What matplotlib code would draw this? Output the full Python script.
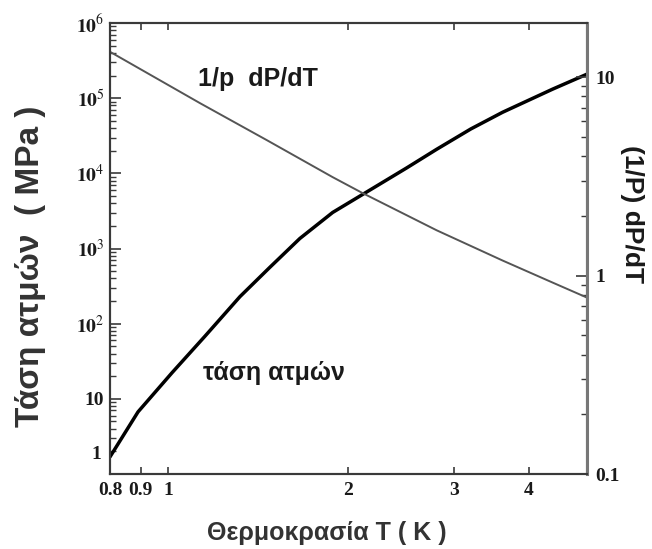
import matplotlib
matplotlib.use("Agg")
import matplotlib.pyplot as plt
from matplotlib.ticker import FixedLocator, FixedFormatter, NullLocator, LogLocator, NullFormatter

plt.rcParams["mathtext.fontset"] = "stix"

# Vapour pressure of helium vs temperature (left axis)
T_vp = [0.800, 0.891, 1.015, 1.152, 1.318, 1.477, 1.659, 1.882, 2.112, 2.500,
        2.806, 3.200, 3.615, 4.379, 5.0]
P_vp = [1.69, 6.71, 22.2, 68, 229, 558, 1360, 3020, 5250, 11800,
        20900, 39000, 65000, 131800, 209000]

# Relative slope (1/P) dP/dT (right axis)
T_rate = [0.800, 1.130, 1.461, 1.882, 2.112, 2.806, 3.615, 4.379, 5.0]
R_rate = [13.4, 7.39, 4.81, 3.13, 2.60, 1.69, 1.19, 0.922, 0.774]

x_ticks = [0.8, 0.9, 1, 2, 3, 4]
x_labels = ["0.8", "0.9", "1", "2", "3", "4"]
yl_ticks = [1, 10, 1e2, 1e3, 1e4, 1e5, 1e6]
yl_labels = ["", "10", r"$\mathbf{10}^{2}$", r"$\mathbf{10}^{3}$", r"$\mathbf{10}^{4}$",
             r"$\mathbf{10}^{5}$", r"$\mathbf{10}^{6}$"]
yr_ticks = [0.1, 1, 10]
yr_labels = ["0.1", "1", "10"]

ink = "#1a1a1a"
spine_c = "#3a3a3a"
tick_font = dict(family="Liberation Serif", weight="bold", size=14)

fig = plt.figure(figsize=(6.52, 5.49), dpi=100)
ax = fig.add_axes([0.1687, 0.1366, 0.7316, 0.8214])
ax.set_xscale("log")
ax.set_yscale("log")
ax.set_xlim(0.8, 5.0)
ax.set_ylim(1, 1e6)

ax2 = ax.twinx()
ax2.set_yscale("log")
ax2.set_ylim(0.1, 18.7)

ax.plot(T_vp, P_vp, color="black", lw=2.5, solid_capstyle="round",
        solid_joinstyle="round", zorder=3)
ax2.plot(T_rate, R_rate, color="#555555", lw=1.4, solid_joinstyle="round", zorder=2)

# x axis
ax.xaxis.set_major_locator(FixedLocator(x_ticks))
ax.xaxis.set_major_formatter(FixedFormatter(x_labels))
ax.xaxis.set_minor_locator(NullLocator())
ax.xaxis.set_minor_formatter(NullFormatter())

# left axis
ax.yaxis.set_major_locator(FixedLocator(yl_ticks))
ax.yaxis.set_major_formatter(FixedFormatter(yl_labels))
ax.yaxis.set_minor_locator(LogLocator(base=10, subs=range(2, 10), numticks=20))
ax.yaxis.set_minor_formatter(NullFormatter())

# right axis
ax2.yaxis.set_major_locator(FixedLocator(yr_ticks))
ax2.yaxis.set_major_formatter(FixedFormatter(yr_labels))
ax2.yaxis.set_minor_locator(LogLocator(base=10, subs=range(2, 10), numticks=20))
ax2.yaxis.set_minor_formatter(NullFormatter())

ax.tick_params(axis="x", which="major", direction="in", top=True, length=5, width=1.2,
               colors=spine_c, labelcolor=ink, pad=6)
ax.tick_params(axis="y", which="major", direction="in", right=False, length=8, width=1.2,
               colors=spine_c, labelcolor=ink, pad=4)
ax.tick_params(axis="y", which="minor", direction="in", right=False, length=4, width=1.0,
               colors=spine_c)
ax2.tick_params(axis="y", which="major", direction="in", length=8, width=1.2,
                colors=spine_c, labelcolor=ink, pad=6)
ax2.tick_params(axis="y", which="minor", direction="in", length=4, width=1.0,
                colors=spine_c)

for lab in ax.get_xticklabels() + ax.get_yticklabels() + ax2.get_yticklabels():
    lab.set_fontproperties(tick_font)
    lab.set_fontsize(14)

# the "1" label of the pressure axis sits a little above its tick
ax.annotate("1", xy=(0, 1), xycoords=("axes fraction", "data"),
            xytext=(-6, 14), textcoords="offset points", ha="right", va="center",
            color=ink, **tick_font)

for a in (ax, ax2):
    for s in a.spines.values():
        s.set_color(spine_c)
        s.set_linewidth(1.5)
ax2.spines["right"].set_color("#777777")
ax2.spines["right"].set_linewidth(2.2)

ax.set_xlabel("Θερμοκρασία T ( K )", fontsize=18, fontweight="bold",
              family="Liberation Sans", color="#333333")
ax.xaxis.set_label_coords(0.455, -0.105)
ax.set_ylabel("Τάση ατμών  ( MPa )", fontsize=24, fontweight="bold",
              family="Liberation Sans", color="#333333")
ax.yaxis.set_label_coords(-0.135, 0.46)
ax2.set_ylabel("(1/P) dP/dT", fontsize=19, fontweight="bold", family="Liberation Sans",
               color=ink, rotation=270)
ax2.yaxis.set_label_coords(1.12, 0.576)

ax.text(1.41, 1.8e5, "1/p  dP/dT", fontsize=18, fontweight="bold",
        family="Liberation Sans", color=ink, ha="center", va="center")
ax.text(1.50, 22, "τάση ατμών", fontsize=18, fontweight="bold",
        family="Liberation Sans", color=ink, ha="center", va="center")

fig.savefig("out.png", dpi=100)
